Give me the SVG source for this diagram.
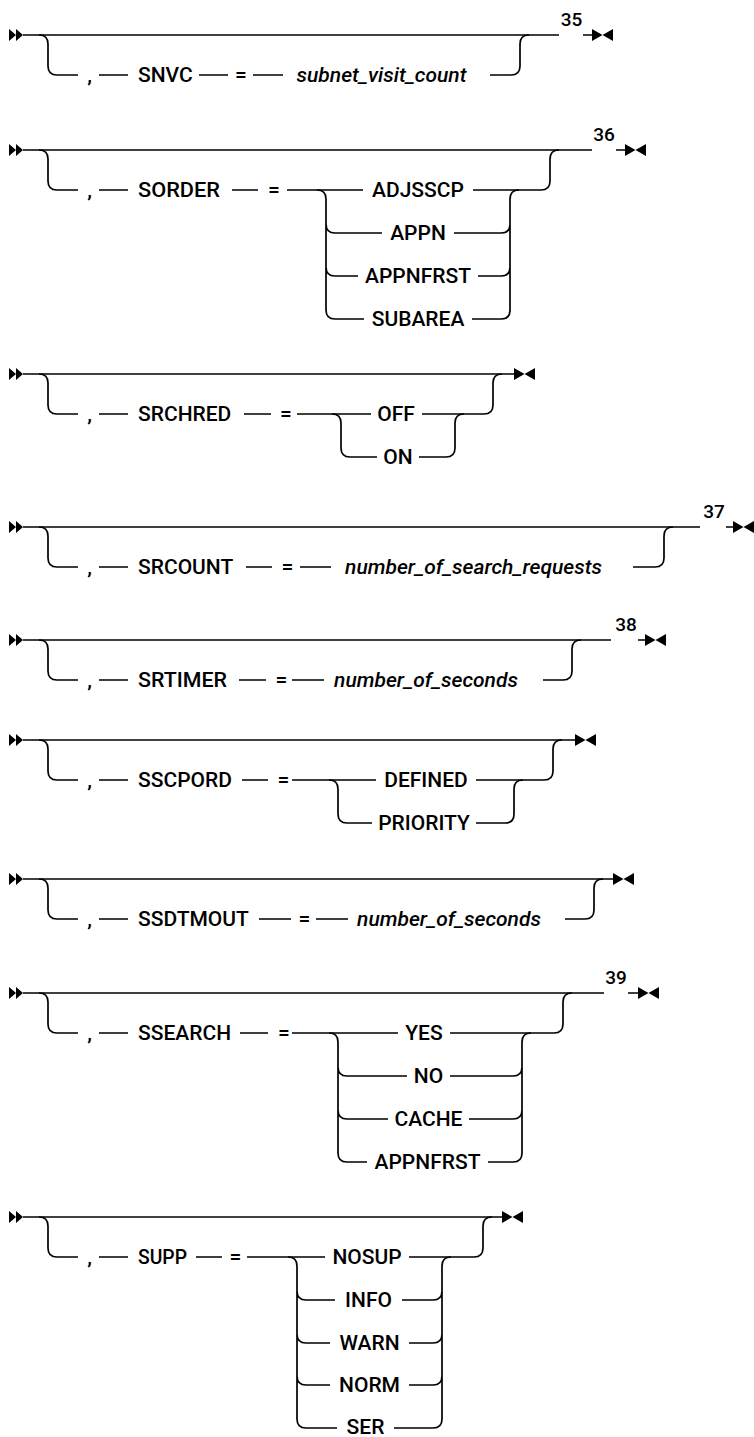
<svg xmlns="http://www.w3.org/2000/svg" width="754" height="1437" viewBox="0 0 754 1437">
<style>
.ln{fill:none;stroke:#000;stroke-width:1.7;stroke-linecap:butt}
.t{font-family:Roboto,"Liberation Sans",sans-serif;font-size:21px;font-weight:500;fill:#000}
.c{text-anchor:middle}
.i{font-style:italic}
.n{font-family:Roboto,"Liberation Sans",sans-serif;font-size:19px;font-weight:500;fill:#000;text-anchor:middle}
.mk{fill:#000}
</style>
<defs>
<path id="st" class="mk" d="M0,-6 L7,0 L0,6 Z M7,-6 L14,0 L7,6 Z"/>
<path id="en" class="mk" d="M0,-6 L10.5,0 L0,6 Z M21,-6 L10.5,0 L21,6 Z"/>
</defs>
<rect width="754" height="1437" fill="#fff"/>

<g id="snvc">
<g class="connectors">
<use href="#st" x="9" y="35"/>
<path class="ln" d="M23,35 H559 M583,35 H592"/>
<path class="ln" d="M39,35 Q48,35 48,44 V66 Q48,75 57,75 H78 M99,75 H128 M199,75 H228 M253,75 H283 M490,75 H511 Q520,75 520,66 V44 Q520,35 529,35"/>
<use href="#en" x="592" y="35"/>
</g>
<text class="n" x="571.5" y="26">35</text>
<text class="t c" x="89.5" y="82">,</text>
<text class="t" x="138" y="82">SNVC</text>
<text class="t c" x="241" y="82">=</text>
<text class="t c i" x="381.5" y="82">subnet_visit_count</text>
</g>

<g id="sorder">
<g class="connectors">
<use href="#st" x="9" y="150"/>
<path class="ln" d="M23,150 H592 M616,150 H625"/>
<path class="ln" d="M39,150 Q48,150 48,159 V181 Q48,190 57,190 H78 M99,190 H128 M232,190 H258 M287,190 H363 M473,190 H541 Q550,190 550,181 V159 Q550,150 559,150"/>
<path class="ln" d="M317,190 Q326,190 326,199 V310 Q326,319 335,319 H364 M326,224 Q326,233 335,233 H382 M326,267 Q326,276 335,276 H358"/>
<path class="ln" d="M454,233 H501 Q510,233 510,224 M478,276 H501 Q510,276 510,267 M472,319 H501 Q510,319 510,310 V199 Q510,190 519,190"/>
<use href="#en" x="625" y="150"/>
</g>
<text class="n" x="604" y="141">36</text>
<text class="t c" x="89.5" y="197">,</text>
<text class="t" x="138" y="197" textLength="82" lengthAdjust="spacingAndGlyphs">SORDER</text>
<text class="t c" x="274" y="197">=</text>
<text class="t c" x="418" y="197">ADJSSCP</text>
<text class="t c" x="418" y="240">APPN</text>
<text class="t c" x="418" y="283">APPNFRST</text>
<text class="t c" x="418" y="326">SUBAREA</text>
</g>

<g id="srchred">
<g class="connectors">
<use href="#st" x="9" y="374"/>
<path class="ln" d="M23,374 H514"/>
<path class="ln" d="M39,374 Q48,374 48,383 V405 Q48,414 57,414 H78 M99,414 H128 M244,414 H271 M297,414 H371 M422,414 H484 Q493,414 493,405 V383 Q493,374 502,374"/>
<path class="ln" d="M332,414 Q341,414 341,423 V448 Q341,457 350,457 H377 M419,457 H446 Q455,457 455,448 V423 Q455,414 464,414"/>
<use href="#en" x="514" y="374"/>
</g>
<text class="t c" x="89.5" y="421">,</text>
<text class="t" x="138" y="421">SRCHRED</text>
<text class="t c" x="286" y="421">=</text>
<text class="t c" x="396" y="421">OFF</text>
<text class="t c" x="398" y="464">ON</text>
</g>

<g id="srcount">
<g class="connectors">
<use href="#st" x="9" y="527"/>
<path class="ln" d="M23,527 H700 M726,527 H733"/>
<path class="ln" d="M39,527 Q48,527 48,536 V558 Q48,567 57,567 H78 M99,567 H128 M246,567 H272 M300,567 H331 M633,567 H655 Q664,567 664,558 V536 Q664,527 673,527"/>
<use href="#en" x="733" y="527"/>
</g>
<text class="n" x="714" y="518">37</text>
<text class="t c" x="89.5" y="574">,</text>
<text class="t" x="138" y="574">SRCOUNT</text>
<text class="t c" x="287.5" y="574">=</text>
<text class="t c i" x="473.5" y="574">number_of_search_requests</text>
</g>

<g id="srtimer">
<g class="connectors">
<use href="#st" x="9" y="640"/>
<path class="ln" d="M23,640 H611 M638,640 H645"/>
<path class="ln" d="M39,640 Q48,640 48,649 V671 Q48,680 57,680 H78 M99,680 H128 M239,680 H266 M292,680 H324 M543,680 H563 Q572,680 572,671 V649 Q572,640 581,640"/>
<use href="#en" x="645" y="640"/>
</g>
<text class="n" x="626" y="631">38</text>
<text class="t c" x="89.5" y="687">,</text>
<text class="t" x="138" y="687" textLength="89" lengthAdjust="spacingAndGlyphs">SRTIMER</text>
<text class="t c" x="281.5" y="687">=</text>
<text class="t c i" x="426" y="687">number_of_seconds</text>
</g>

<g id="sscpord">
<g class="connectors">
<use href="#st" x="9" y="740"/>
<path class="ln" d="M23,740 H575"/>
<path class="ln" d="M39,740 Q48,740 48,749 V771 Q48,780 57,780 H78 M99,780 H128 M242,780 H268 M292,780 H376 M476,780 H544 Q553,780 553,771 V749 Q553,740 562,740"/>
<path class="ln" d="M329,780 Q338,780 338,789 V814 Q338,823 347,823 H372 M476,823 H505 Q514,823 514,814 V789 Q514,780 523,780"/>
<use href="#en" x="575" y="740"/>
</g>
<text class="t c" x="89.5" y="787">,</text>
<text class="t" x="138" y="787">SSCPORD</text>
<text class="t c" x="283.5" y="787">=</text>
<text class="t c" x="426" y="787">DEFINED</text>
<text class="t c" x="424" y="830">PRIORITY</text>
</g>

<g id="ssdtmout">
<g class="connectors">
<use href="#st" x="9" y="879"/>
<path class="ln" d="M23,879 H613"/>
<path class="ln" d="M39,879 Q48,879 48,888 V910 Q48,919 57,919 H78 M99,919 H128 M259,919 H291 M316,919 H348 M565,919 H585 Q594,919 594,910 V888 Q594,879 603,879"/>
<use href="#en" x="613" y="879"/>
</g>
<text class="t c" x="89.5" y="926">,</text>
<text class="t" x="138" y="926">SSDTMOUT</text>
<text class="t c" x="304.5" y="926">=</text>
<text class="t c i" x="449" y="926">number_of_seconds</text>
</g>

<g id="ssearch">
<g class="connectors">
<use href="#st" x="9" y="993"/>
<path class="ln" d="M23,993 H604 M628,993 H638"/>
<path class="ln" d="M39,993 Q48,993 48,1002 V1024 Q48,1033 57,1033 H78 M99,1033 H128 M240,1033 H268 M292,1033 H398 M450,1033 H554 Q563,1033 563,1024 V1002 Q563,993 572,993"/>
<path class="ln" d="M329,1033 Q338,1033 338,1042 V1153 Q338,1162 347,1162 H367 M338,1067 Q338,1076 347,1076 H407 M338,1110 Q338,1119 347,1119 H388"/>
<path class="ln" d="M450,1076 H513 Q522,1076 522,1067 M469,1119 H513 Q522,1119 522,1110 M488,1162 H513 Q522,1162 522,1153 V1042 Q522,1033 531,1033"/>
<use href="#en" x="638" y="993"/>
</g>
<text class="n" x="616" y="984">39</text>
<text class="t c" x="89.5" y="1040">,</text>
<text class="t" x="138" y="1040">SSEARCH</text>
<text class="t c" x="284" y="1040">=</text>
<text class="t c" x="424" y="1040">YES</text>
<text class="t c" x="428.5" y="1083">NO</text>
<text class="t c" x="428.5" y="1126">CACHE</text>
<text class="t c" x="427.5" y="1169">APPNFRST</text>
</g>

<g id="supp">
<g class="connectors">
<use href="#st" x="9" y="1217"/>
<path class="ln" d="M23,1217 H502"/>
<path class="ln" d="M39,1217 Q48,1217 48,1226 V1248 Q48,1257 57,1257 H78 M99,1257 H128 M196,1257 H222 M247,1257 H325 M409,1257 H474 Q483,1257 483,1248 V1226 Q483,1217 492,1217"/>
<path class="ln" d="M288,1257 Q297,1257 297,1266 V1419 Q297,1428 306,1428 H337 M297,1291 Q297,1300 306,1300 H335 M297,1334 Q297,1343 306,1343 H330 M297,1376 Q297,1385 306,1385 H330"/>
<path class="ln" d="M402,1300 H433 Q442,1300 442,1291 M409,1343 H433 Q442,1343 442,1334 M409,1385 H433 Q442,1385 442,1376 M394,1428 H433 Q442,1428 442,1419 V1266 Q442,1257 451,1257"/>
<use href="#en" x="502" y="1217"/>
</g>
<text class="t c" x="89.5" y="1264">,</text>
<text class="t" x="138" y="1264" textLength="49" lengthAdjust="spacingAndGlyphs">SUPP</text>
<text class="t c" x="235.5" y="1264">=</text>
<text class="t c" x="367" y="1264">NOSUP</text>
<text class="t c" x="368.5" y="1307">INFO</text>
<text class="t c" x="369.5" y="1350">WARN</text>
<text class="t c" x="369.5" y="1392">NORM</text>
<text class="t c" x="365.5" y="1434">SER</text>
</g>
</svg>
